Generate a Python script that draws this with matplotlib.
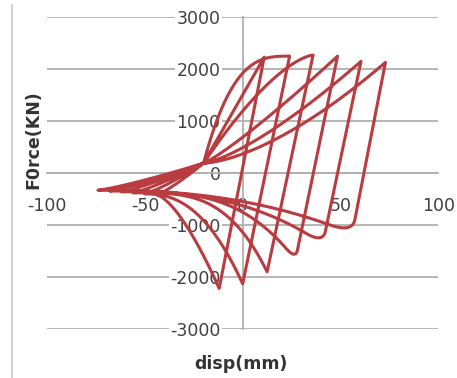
import numpy as np
import matplotlib.pyplot as plt
from matplotlib.lines import Line2D

# Cyclic test: force (kN) vs displacement (mm), six cycles of growing amplitude
peak_disp = [11, 24, 36, 48.5, 60.5, 73]
peak_force = [2230, 2250, 2270, 2250, 2150, 2130]
low_disp = [-12, 0, 12.5, 27, 41, 56]
low_force = [-2220, -2130, -1900, -1670, -1360, -1160]
tip_disp = [-44, -50, -56, -62, -68, -74]
tip_force = [-420, -400, -380, -360, -345, -330]
pinch_disp, pinch_force = -20, 190

# curve shape per branch (p > 1 stiffening, p < 1 softening)
reload_shape = [1.0, 0.33, 0.67, 1.15, 1.35, 1.55]
back_shape = [0.67, 0.42, 0.29, 0.3, 0.37, 0.42]
tip_shape = 1.2
corner_round = [0, 0, 0, 0.05, 0.07, 0.08]

xticks = [-100, -50, 0, 50, 100]
yticks = [-3000, -2000, -1000, 0, 1000, 2000, 3000]


def curve(x0, y0, x1, y1, p, t0=0.0, n=60):
    t = np.linspace(t0, 1, n)
    g = t ** p if p >= 1 else 1 - (1 - t) ** (1 / p)
    return list(x0 + (x1 - x0) * t), list(y0 + (y1 - y0) * g)


xs, ys = [pinch_disp], [pinch_force]
for k in range(len(peak_disp)):
    # reload through the pinch point up to the peak
    cx, cy = curve(pinch_disp, pinch_force, peak_disp[k], peak_force[k], reload_shape[k])
    xs += cx[1:]; ys += cy[1:]
    # unloading, with a rounded bottom corner on the larger cycles
    r = corner_round[k]
    px, py = peak_disp[k], peak_force[k]
    lx, ly = low_disp[k], low_force[k]
    if r > 0:
        ax_, ay_ = lx + (px - lx) * r, ly + (py - ly) * r
        bx, by = curve(lx, ly, tip_disp[k], tip_force[k], back_shape[k], t0=r * 1.2, n=2)
        bx, by = bx[0], by[0]
        xs.append(ax_); ys.append(ay_)
        s = np.linspace(0, 1, 15)
        xs += list((1 - s) ** 2 * ax_ + 2 * s * (1 - s) * lx + s ** 2 * bx)
        ys += list((1 - s) ** 2 * ay_ + 2 * s * (1 - s) * ly + s ** 2 * by)
        cx, cy = curve(lx, ly, tip_disp[k], tip_force[k], back_shape[k], t0=r * 1.2)
    else:
        xs.append(lx); ys.append(ly)
        cx, cy = curve(lx, ly, tip_disp[k], tip_force[k], back_shape[k])
    xs += cx[1:]; ys += cy[1:]
    # back from the left end to the pinch point
    cx, cy = curve(tip_disp[k], tip_force[k], pinch_disp, pinch_force, tip_shape)
    xs += cx[1:]; ys += cy[1:]

fig = plt.figure(figsize=(4.57, 3.78), dpi=100)
ax = fig.add_axes([0.103, 0.1296, 0.856, 0.825])
ax.plot(xs, ys, color='#b83c40', lw=2.2, solid_joinstyle='round', zorder=3)

ax.set_xlim(-100, 100)
ax.set_ylim(-3000, 3000)
ax.set_xticks(xticks, [str(v) for v in xticks])
ax.set_yticks(yticks, [str(v) for v in yticks])
ax.spines['left'].set_position('zero')
ax.spines['bottom'].set_position('zero')
ax.spines['top'].set_visible(False)
ax.spines['right'].set_visible(False)
for s in ['left', 'bottom']:
    ax.spines[s].set_color('#b0b0b0')
    ax.spines[s].set_linewidth(1.3)
ax.grid(axis='y', color='#b5b5b5', lw=1.4)
ax.set_axisbelow(True)
ax.tick_params(axis='x', length=0, pad=17, labelsize=12.5, labelcolor='#404040')
ax.tick_params(axis='y', length=0, pad=16, labelsize=12.5, labelcolor='#404040')
for lab in ax.get_yticklabels():
    lab.set_bbox(dict(facecolor='white', edgecolor='none', pad=1))

fig.text(0.074, 0.63, 'F0rce(KN)', rotation=90, fontsize=12.5, fontweight='bold',
         color='#333333', ha='center', va='center')
fig.text(0.527, 0.037, 'disp(mm)', fontsize=12.5, fontweight='bold',
         color='#333333', ha='center', va='center')
fig.add_artist(Line2D([12 / 457, 12 / 457], [0, 1 - 5 / 378], color='#c8c8c8', lw=1.2))

fig.savefig('out.png', dpi=100)
